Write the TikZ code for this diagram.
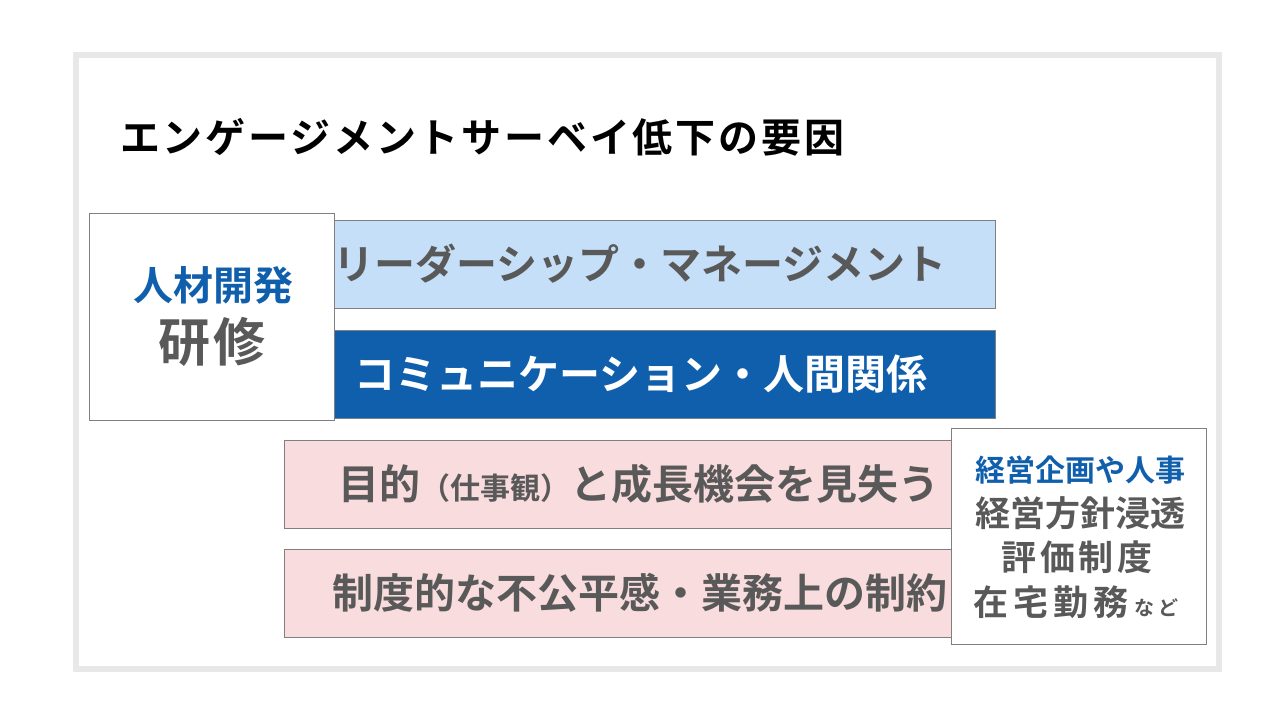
\documentclass[tikz,border=0pt]{standalone}
\usepackage{fontspec}
\setmainfont{Noto Sans CJK JP}[BoldFont={Noto Sans CJK JP Bold}]
\usetikzlibrary{positioning}
\definecolor{framegray}{HTML}{E8E8E8}
\definecolor{linegray}{HTML}{808080}
\definecolor{textgray}{HTML}{595959}
\definecolor{lightblue}{HTML}{C5DFF8}
\definecolor{darkblue}{HTML}{105FAD}
\definecolor{lightpink}{HTML}{F9DCDD}
\newcommand{\px}[1]{\fontsize{#1}{#1}\selectfont}

\begin{document}
\begin{tikzpicture}[x=1pt,y=-1pt,
  box/.style={draw=linegray,line width=1pt,fill=white,anchor=north west,inner sep=0pt},
  bar/.style={box,minimum height=88pt},
  bartext/.style={font=\px{41}\bfseries,text=textgray,inner sep=0pt},
  sidetext/.style={font=\px{35}\bfseries,text=textgray,inner sep=0pt},
  bluetext/.style={font=\px{30}\bfseries,text=darkblue,inner sep=0pt}]
  \useasboundingbox (0,0) rectangle (1280,720);
  \draw[draw=framegray,line width=6pt,fill=white] (76,55) rectangle (1219,669);

  \node[anchor=west,inner sep=0pt,font=\px{40}\bfseries\addfontfeature{LetterSpace=7}] (title) at (120,137)
    {エンゲージメントサーベイ低下の要因};

  % bars
  \node[bar,fill=lightblue,minimum width=661pt] (lead) at (334,220) {};
  \node[bar,fill=darkblue,minimum width=661pt] (comm) at (334,330) {};
  \node[bar,fill=lightpink,minimum width=668pt] (goal) at (284,440) {};
  \node[bar,fill=lightpink,minimum width=668pt] (rule) at (284,549) {};

  \node[bartext] (leadtext) at (640,264) {リーダーシップ・マネージメント};
  \node[bartext,text=white] (commtext) at (641,374) {コミュニケーション・人間関係};
  \node[bartext] (goaltext) at (639,484) {目的{\px{30}（仕事観）}と成長機会を見失う};
  \node[bartext] (ruletext) at (640,593) {制度的な不公平感・業務上の制約};

  % side boxes
  \node[box,minimum width=245pt,minimum height=207pt] (hr) at (89,213) {};
  \node[bluetext,font=\px{40}\bfseries] (hrtop) at (213,285) {人材開発};
  \node[bartext,font=\px{52}\bfseries] (hrsub) at (212,342) {研\kern4pt 修};

  \node[box,minimum width=255pt,minimum height=216pt] (mgmt) at (951,428) {};
  \node[bluetext] (mgmttop) at (1080,470) {経営企画や人事};
  \node[sidetext] (policy) at (1080,513) {経営方針浸透};
  \node[sidetext] (eval) at (1077,557) {評\kern4pt 価\kern4pt 制\kern4pt 度};
  \node[sidetext] (remote) at (1076,602)
    {在\kern5pt 宅\kern5pt 勤\kern5pt 務\kern6pt{\px{20}な\kern4pt ど}};
\end{tikzpicture}
\end{document}
